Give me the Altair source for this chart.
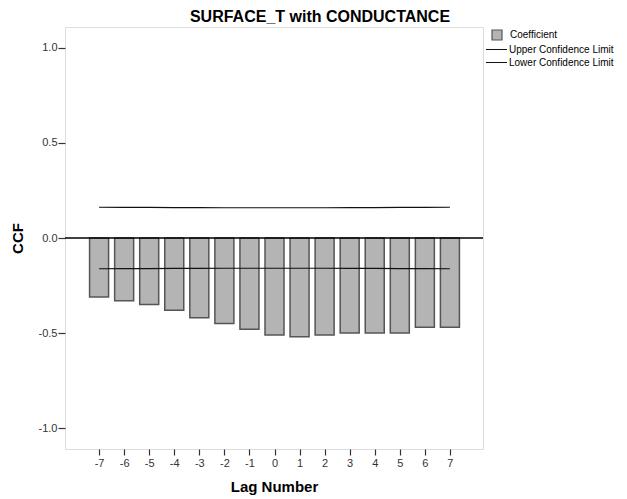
import altair as alt
import pandas as pd

# ---- data ----
lags = [-7, -6, -5, -4, -3, -2, -1, 0, 1, 2, 3, 4, 5, 6, 7]
coefficient = [-0.31, -0.33, -0.35, -0.38, -0.42, -0.45, -0.48, -0.51,
               -0.52, -0.51, -0.50, -0.50, -0.50, -0.47, -0.47]
upper_limit = [0.162, 0.161, 0.161, 0.160, 0.160, 0.159, 0.159, 0.159,
               0.159, 0.159, 0.160, 0.160, 0.161, 0.161, 0.162]
lower_limit = [-0.162, -0.161, -0.161, -0.160, -0.160, -0.159, -0.159, -0.159,
               -0.159, -0.159, -0.160, -0.160, -0.161, -0.161, -0.162]
y_ticks = [-1.0, -0.5, 0.0, 0.5, 1.0]
series_bar = "Coefficient"
series_lines = ["Upper Confidence Limit", "Lower Confidence Limit"]
title_text = "SURFACE_T with CONDUCTANCE"

bars_df = pd.DataFrame({"lag": lags, "ccf": coefficient, "series": series_bar})
lines_df = pd.concat([
    pd.DataFrame({"lag": lags, "ccf": upper_limit, "series": series_lines[0]}),
    pd.DataFrame({"lag": lags, "ccf": lower_limit, "series": series_lines[1]}),
])
zero_df = pd.DataFrame({"ccf": [0.0]})

FONT = "Liberation Sans"
MINUS = "\u2212"

xs = alt.Scale(domain=[-8.36, 8.32], nice=False, zero=False, padding=0)
ys = alt.Scale(domain=[-1.11, 1.11], nice=False, zero=False, padding=0)

x_axis = alt.Axis(values=lags, tickCount=30, format="d", title="Lag Number",
                  domain=False, grid=False,
                  tickSize=6, tickColor="#333333", tickWidth=1.2, labelPadding=2,
                  labelOverlap=False,
                  labelFontSize=11, labelColor="#333333", labelFont=FONT,
                  labelExpr=f"replace(datum.label, '{MINUS}', '-')",
                  titleFont=FONT, titleFontSize=15, titleFontWeight="bold",
                  titleColor="#000000", titlePadding=11)
y_axis = alt.Axis(values=y_ticks, tickCount=10, format=".1f", title="CCF", domain=False,
                  grid=False, tickSize=7, tickColor="#333333", tickWidth=1.2,
                  labelPadding=1, labelOverlap=False,
                  labelFontSize=11, labelColor="#333333", labelFont=FONT,
                  labelExpr=f"replace(datum.label, '{MINUS}', '-')",
                  titleFont=FONT, titleFontSize=15, titleFontWeight="bold",
                  titleColor="#000000", titlePadding=13)

bars = alt.Chart(bars_df).mark_bar(width=19, stroke="#555555", strokeWidth=1.5).encode(
    x=alt.X("lag:Q", scale=xs, axis=x_axis),
    y=alt.Y("ccf:Q", scale=ys, axis=y_axis),
    fill=alt.Fill("series:N",
                  scale=alt.Scale(domain=[series_bar], range=["#b4b4b4"]),
                  legend=alt.Legend(title=None, orient="none", legendX=426, legendY=2,
                                    symbolType="square", symbolSize=100,
                                    symbolStrokeColor="#555555", symbolStrokeWidth=1.2,
                                    labelOffset=7, labelFontSize=10, labelFont=FONT,
                                    labelColor="#000000")),
)

zero = alt.Chart(zero_df).mark_rule(color="#000000", strokeWidth=1.3).encode(
    y=alt.Y("ccf:Q", scale=ys),
)

lines = alt.Chart(lines_df).mark_line(strokeWidth=1.1).encode(
    x=alt.X("lag:Q", scale=xs),
    y=alt.Y("ccf:Q", scale=ys),
    stroke=alt.Stroke("series:N",
                      scale=alt.Scale(domain=series_lines, range=["#111111", "#111111"]),
                      sort=series_lines,
                      legend=alt.Legend(title=None, orient="none", legendX=424, legendY=15,
                                        symbolType="M-1.5,0H1.5", symbolSize=196,
                                        symbolStrokeWidth=1, rowPadding=0,
                                        labelOffset=5, labelFontSize=10, labelFont=FONT,
                                        labelColor="#000000")),
)

chart = alt.layer(bars, zero, lines).properties(
    width=418,
    height=422,
    autosize=alt.AutoSizeParams(type="none"),
    padding={"left": 57, "top": 19, "right": 136, "bottom": 47},
    title=alt.TitleParams(title_text, font=FONT, fontSize=16, fontWeight="bold",
                          color="#000000", anchor="middle", frame="group",
                          dx=46, dy=18, offset=4, baseline="bottom"),
).configure_view(fill="#f0f0f0", stroke="#707070", strokeWidth=1.3).configure(font=FONT)

chart.save("out.html", embed_options={"renderer": "svg", "actions": False})
